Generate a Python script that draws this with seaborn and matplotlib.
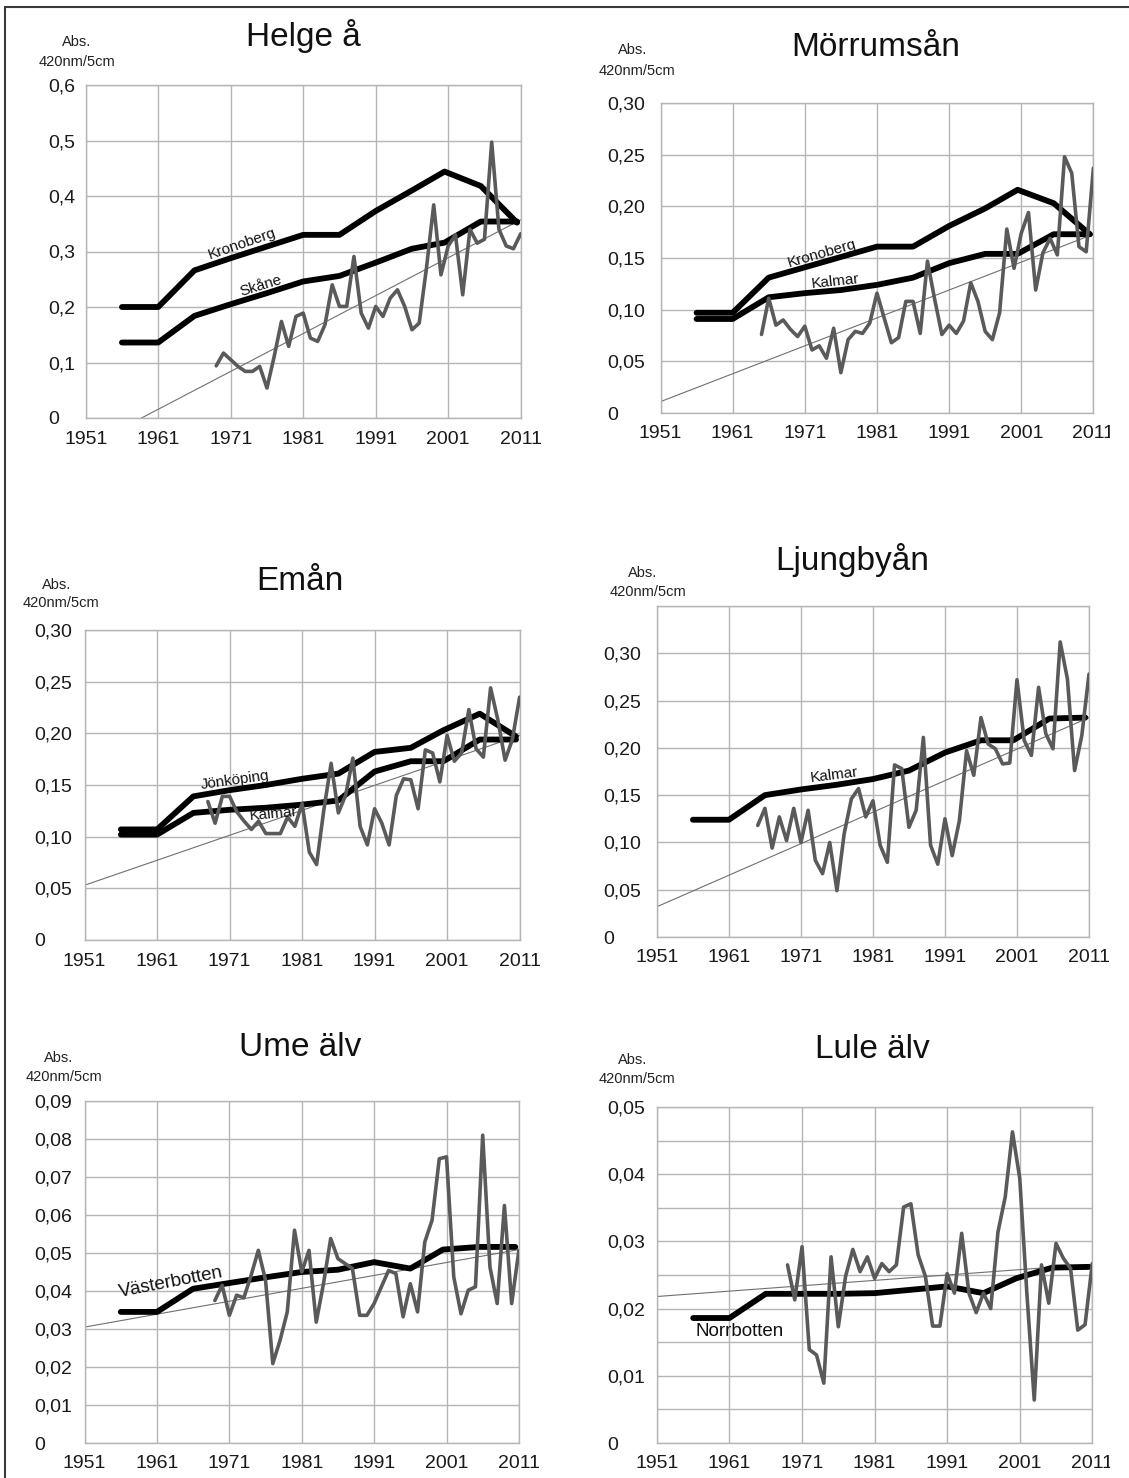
import matplotlib
matplotlib.use("Agg")
import numpy as np
import pandas as pd
import matplotlib.pyplot as plt
import seaborn as sns
from matplotlib.patches import Rectangle
from matplotlib.lines import Line2D
from matplotlib.ticker import FuncFormatter

sns.set_style("white")
plt.rcParams["font.family"] = ["Liberation Sans", "DejaVu Sans"]

# ---- data -------------------------------------------------------------
decade_ticks = [1951, 1961, 1971, 1981, 1991, 2001, 2011]
county_years = [1956, 1961, 1966, 1971, 1976, 1981, 1986, 1991, 1996, 2000.5, 2005.5, 2010.5]

# Helge å
helge_start = 1969
helge_obs = [0.094, 0.117, 0.105, 0.093, 0.084, 0.084, 0.093, 0.054, 0.111, 0.174,
             0.129, 0.183, 0.189, 0.144, 0.138, 0.168, 0.240, 0.201, 0.201, 0.291,
             0.189, 0.162, 0.201, 0.183, 0.216, 0.231, 0.201, 0.159, 0.171, 0.270,
             0.384, 0.258, 0.310, 0.330, 0.222, 0.340, 0.315, 0.322, 0.497, 0.340,
             0.310, 0.305, 0.332]
helge_kronoberg = [0.200, 0.200, 0.266, 0.288, 0.309, 0.330, 0.330, 0.373, 0.410, 0.444, 0.418, 0.352]
helge_skane = [0.136, 0.136, 0.184, 0.205, 0.225, 0.246, 0.256, 0.280, 0.305, 0.316, 0.354, 0.354]
helge_trend_x = [1958.7, 2011]
helge_trend_y = [0.0, 0.357]

# Mörrumsån
morrum_start = 1965
morrum_obs = [0.076, 0.111, 0.085, 0.090, 0.081, 0.074, 0.084, 0.061, 0.065, 0.053,
              0.082, 0.039, 0.071, 0.079, 0.077, 0.087, 0.116, 0.092, 0.068, 0.073,
              0.108, 0.108, 0.077, 0.147, 0.110, 0.076, 0.085, 0.077, 0.089, 0.126,
              0.108, 0.079, 0.071, 0.097, 0.178, 0.140, 0.174, 0.194, 0.119, 0.155,
              0.169, 0.153, 0.248, 0.232, 0.161, 0.156, 0.237]
morrum_kronoberg = [0.097, 0.097, 0.131, 0.141, 0.151, 0.161, 0.161, 0.181, 0.198, 0.216, 0.203, 0.173]
morrum_kalmar = [0.091, 0.091, 0.112, 0.116, 0.119, 0.124, 0.131, 0.145, 0.154, 0.154, 0.173, 0.173]
morrum_trend_x = [1951, 2011]
morrum_trend_y = [0.011, 0.173]

# Emån
eman_start = 1968
eman_obs = [0.134, 0.113, 0.139, 0.139, 0.124, 0.115, 0.107, 0.115, 0.103, 0.103,
            0.103, 0.119, 0.110, 0.132, 0.085, 0.073, 0.126, 0.171, 0.123, 0.140,
            0.176, 0.110, 0.092, 0.127, 0.113, 0.092, 0.140, 0.156, 0.155, 0.127,
            0.184, 0.181, 0.153, 0.198, 0.173, 0.181, 0.223, 0.185, 0.177, 0.244,
            0.213, 0.174, 0.194, 0.235]
eman_jonkoping = [0.107, 0.107, 0.139, 0.145, 0.150, 0.156, 0.161, 0.182, 0.186, 0.203, 0.219, 0.197]
eman_kalmar = [0.102, 0.102, 0.123, 0.126, 0.128, 0.131, 0.135, 0.163, 0.173, 0.173, 0.194, 0.194]
eman_trend_x = [1951, 2011]
eman_trend_y = [0.053, 0.198]

# Ljungbyån
ljung_start = 1965
ljung_obs = [0.118, 0.136, 0.094, 0.127, 0.102, 0.136, 0.100, 0.134, 0.081, 0.067,
             0.100, 0.049, 0.109, 0.146, 0.157, 0.127, 0.144, 0.097, 0.079, 0.182,
             0.178, 0.116, 0.134, 0.211, 0.097, 0.077, 0.125, 0.086, 0.123, 0.197,
             0.171, 0.232, 0.204, 0.199, 0.183, 0.184, 0.272, 0.208, 0.192, 0.264,
             0.215, 0.199, 0.312, 0.273, 0.176, 0.213, 0.278]
ljung_kalmar = [0.124, 0.124, 0.150, 0.156, 0.161, 0.167, 0.176, 0.195, 0.208, 0.208, 0.231, 0.232]
ljung_trend_x = [1951, 2011]
ljung_trend_y = [0.032, 0.232]

# Ume älv
ume_start = 1969
ume_obs = [0.0375, 0.0415, 0.0336, 0.0389, 0.0382, 0.0441, 0.0507, 0.0428, 0.0209, 0.0270,
           0.0345, 0.0560, 0.0450, 0.0507, 0.0318, 0.0419, 0.0538, 0.0485, 0.0472, 0.0459,
           0.0336, 0.0336, 0.0367, 0.0411, 0.0454, 0.0446, 0.0332, 0.0419, 0.0345, 0.0529,
           0.0586, 0.0748, 0.0753, 0.0437, 0.0340, 0.0402, 0.0411, 0.0810, 0.0463, 0.0367,
           0.0625, 0.0367, 0.0507]
ume_vasterbotten = [0.0345, 0.0345, 0.0406, 0.0421, 0.0436, 0.0450, 0.0456, 0.0476, 0.0459, 0.0509, 0.0516, 0.0516]
ume_trend_x = [1951, 2011]
ume_trend_y = [0.0305, 0.0509]

# Lule älv
lule_start = 1969
lule_obs = [0.0265, 0.0213, 0.0292, 0.0139, 0.0131, 0.0089, 0.0277, 0.0173, 0.0248, 0.0288,
            0.0255, 0.0277, 0.0245, 0.0267, 0.0255, 0.0265, 0.0351, 0.0356, 0.0280, 0.0248,
            0.0174, 0.0174, 0.0252, 0.0223, 0.0312, 0.0223, 0.0194, 0.0223, 0.0200, 0.0314,
            0.0366, 0.0463, 0.0394, 0.0220, 0.0064, 0.0265, 0.0208, 0.0297, 0.0275, 0.0260,
            0.0168, 0.0176, 0.0267]
lule_norrbotten = [0.0186, 0.0186, 0.0222, 0.0222, 0.0222, 0.0223, 0.0228, 0.0233, 0.0223, 0.0245, 0.0261, 0.0262]
lule_trend_x = [1951, 2011]
lule_trend_y = [0.0218, 0.0266]

# ---- layout helpers -----------------------------------------------------
W, H = 1129, 1478
GRID = "#b5b5b5"
OBS = "#5a5a5a"
TICK_LEN = 5  # points


def fx(px):
    return px / W


def fy(py):
    return 1 - py / H


def make_fmt(dec, skip=None):
    def f(v, pos):
        if abs(v) < 1e-9:
            return "0"
        if skip is not None and not skip(v):
            return ""
        return f"{v:.{dec}f}".replace(".", ",")
    return FuncFormatter(f)


def panel(fig, box, label_left, title, title_x, title_y, abs_xy, unit_xy, start, obs,
          counties, trend_x, trend_y, ymax, step, dec, skip=None):
    l, t, r, b = box
    ax = fig.add_axes([fx(l), fy(b), fx(r - l), (b - t) / H])

    df = pd.DataFrame({"year": list(range(start, start + len(obs))), "value": obs})
    sns.lineplot(x=trend_x, y=trend_y, ax=ax, color="#707070", linewidth=0.8, zorder=2)
    for name, vals, lx, ly, rot, size in counties:
        sns.lineplot(x=county_years, y=vals, ax=ax, color="black", linewidth=4.2,
                     zorder=3, estimator=None)
    sns.lineplot(data=df, x="year", y="value", ax=ax, color=OBS, linewidth=2.6,
                 zorder=4, estimator=None)
    for name, vals, lx, ly, rot, size in counties:
        ax.text(lx, ly, name, rotation=rot, rotation_mode="anchor", ha="center",
                va="center", fontsize=size, color="#111111", zorder=6)

    ax.set_xlim(1951, 2011)
    ax.set_ylim(0, ymax)
    ax.set_xticks(decade_ticks)
    ax.set_yticks(np.linspace(0, ymax, int(round(ymax / step)) + 1))
    ax.yaxis.set_major_formatter(make_fmt(dec, skip))
    ax.set_xlabel("")
    ax.set_ylabel("")
    ax.grid(True, color=GRID, linewidth=1.0)
    ax.set_axisbelow(True)
    for s in ax.spines.values():
        s.set_color(GRID)
        s.set_linewidth(1.0)
    ax.tick_params(length=TICK_LEN, width=1.0, color=GRID, labelsize=14,
                   labelcolor="#1a1a1a")
    ax.tick_params(axis="x", pad=4)
    # y labels are left aligned in a column left of the axis
    ypad = (l - label_left) * 0.72 - TICK_LEN
    ax.tick_params(axis="y", pad=ypad)
    for lab in ax.get_yticklabels():
        lab.set_horizontalalignment("left")

    fig.text(fx(title_x), fy(title_y), title, ha="center", va="center",
             fontsize=24, color="#111111")
    fig.text(fx(abs_xy[0]), fy(abs_xy[1]), "Abs.", ha="center", va="center",
             fontsize=10.5, color="#222222")
    fig.text(fx(unit_xy[0]), fy(unit_xy[1]), "420nm/5cm", ha="center", va="center",
             fontsize=10.5, color="#222222")
    return ax


fig = plt.figure(figsize=(W / 100, H / 100), dpi=100)

panel(fig, (85.7, 85, 520.7, 418), 48, "Helge å", 303, 36, (77, 42), (77, 62),
      helge_start, helge_obs,
      [("Kronoberg", helge_kronoberg, 1972.6, 0.313, 19, 11),
       ("Skåne", helge_skane, 1975.2, 0.238, 17, 11)],
      helge_trend_x, helge_trend_y, 0.6, 0.1, 1)

panel(fig, (660.5, 103, 1093.4, 413), 607, "Mörrumsån", 876, 47, (633, 50), (637, 71),
      morrum_start, morrum_obs,
      [("Kronoberg", morrum_kronoberg, 1973.4, 0.1545, 16, 11),
       ("Kalmar", morrum_kalmar, 1975.2, 0.127, 6, 11)],
      morrum_trend_x, morrum_trend_y, 0.30, 0.05, 2)

panel(fig, (84.6, 630, 519.6, 940), 34, "Emån", 300, 582, (57, 585), (61, 603),
      eman_start, eman_obs,
      [("Jönköping", eman_jonkoping, 1971.8, 0.155, 8, 11),
       ("Kalmar", eman_kalmar, 1977.0, 0.122, 5, 11)],
      eman_trend_x, eman_trend_y, 0.30, 0.05, 2)

panel(fig, (656.9, 606, 1089, 937), 603.5, "Ljungbyån", 852, 560, (643, 573), (648, 592),
      ljung_start, ljung_obs,
      [("Kalmar", ljung_kalmar, 1975.6, 0.171, 7, 11)],
      ljung_trend_x, ljung_trend_y, 0.35, 0.05, 2,
      skip=lambda v: v < 0.33)

panel(fig, (84.6, 1101, 518.9, 1443), 34, "Ume älv", 300, 1047, (59, 1058), (64, 1077),
      ume_start, ume_obs,
      [("Västerbotten", ume_vasterbotten, 1962.9, 0.0423, 11, 13.5)],
      ume_trend_x, ume_trend_y, 0.09, 0.01, 2)

panel(fig, (656.9, 1107, 1092.3, 1443), 607, "Lule älv", 872, 1049, (633, 1060), (637, 1079),
      lule_start, lule_obs,
      [("Norrbotten", lule_norrbotten, 1962.4, 0.0166, 0, 13.5)],
      lule_trend_x, lule_trend_y, 0.05, 0.005, 2,
      skip=lambda v: abs(v / 0.01 - round(v / 0.01)) < 1e-6)

# image is cropped on the right, cutting the last tick labels
fig.patches.append(Rectangle((fx(1110), 0), fx(W - 1110), fy(20), transform=fig.transFigure,
                             facecolor="white", edgecolor="none", zorder=10))
# outer frame (top and left edge)
fig.lines.append(Line2D([fx(5), 1], [fy(7), fy(7)], transform=fig.transFigure,
                        color="#3a3a3a", linewidth=1.5, zorder=11))
fig.lines.append(Line2D([fx(5), fx(5)], [0, fy(7)], transform=fig.transFigure,
                        color="#3a3a3a", linewidth=1.5, zorder=11))

fig.savefig("out.png", dpi=100)
